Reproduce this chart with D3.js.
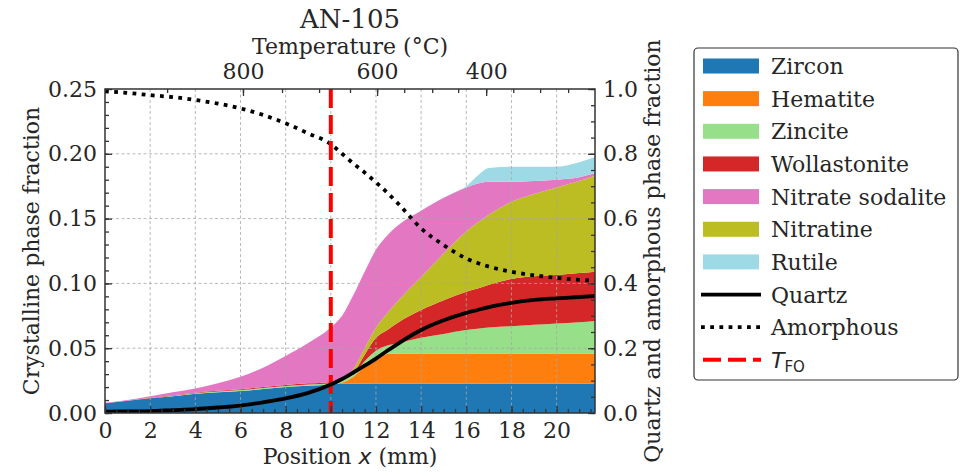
<!DOCTYPE html>
<meta charset="utf-8">
<style>
body { margin: 0; background: #fff; }
svg text { fill: #262626; }
.grid line { stroke: #a6a6a6; stroke-width: 0.8; stroke-dasharray: 3,2.5; }
</style>
<svg width="963" height="476"></svg>
<script src="https://cdn.jsdelivr.net/npm/d3@7"></script>
<script>

// position along the sample (mm)
var position = [0, 1, 2, 3, 4, 5, 6, 7, 8, 9, 10, 10.5, 11, 11.5, 12, 12.5, 13, 14, 15, 16, 16.5, 17, 18, 19, 20, 21, 21.7];

// crystalline phase fractions, stacked in this order
var zircon = [0.0075, 0.0095, 0.0113, 0.013, 0.0148, 0.016, 0.017, 0.0185, 0.020, 0.021, 0.022, 0.0225, 0.0225, 0.0225, 0.0225, 0.0225, 0.0225, 0.0225, 0.0225, 0.0225, 0.0225, 0.0225, 0.0225, 0.0225, 0.0225, 0.0225, 0.0225];
var hematite = [0, 0, 0, 0, 0, 0, 0, 0, 0, 0, 0, 0.001, 0.0055, 0.0135, 0.0205, 0.023, 0.0235, 0.0235, 0.0235, 0.0235, 0.0235, 0.0235, 0.0235, 0.0235, 0.0235, 0.0235, 0.0235];
var zincite = [0, 0, 0, 0.0003, 0.0005, 0.0006, 0.0007, 0.0008, 0.0009, 0.001, 0.001, 0.0015, 0.002, 0.004, 0.005, 0.0065, 0.008, 0.012, 0.015, 0.018, 0.019, 0.020, 0.021, 0.022, 0.023, 0.024, 0.025];
var wollastonite = [0, 0, 0.0002, 0.0003, 0.0004, 0.0005, 0.0006, 0.0007, 0.0008, 0.0009, 0.001, 0.001, 0.001, 0.005, 0.010, 0.012, 0.016, 0.0215, 0.026, 0.0296, 0.031, 0.033, 0.0364, 0.0375, 0.0375, 0.038, 0.038];
var nitratine = [0, 0, 0, 0, 0, 0, 0, 0, 0, 0, 0, 0.001, 0.003, 0.005, 0.008, 0.013, 0.017, 0.0255, 0.036, 0.0464, 0.051, 0.054, 0.0596, 0.0635, 0.0675, 0.071, 0.074];
var sodalite = [0.0005, 0.0005, 0.0015, 0.0024, 0.0033, 0.0059, 0.0097, 0.015, 0.0223, 0.0311, 0.042, 0.048, 0.057, 0.059, 0.060, 0.060, 0.058, 0.051, 0.043, 0.034, 0.030, 0.0255, 0.0155, 0.010, 0.006, 0.003, 0.002];
var rutile = [0, 0, 0, 0, 0, 0, 0, 0, 0, 0, 0, 0, 0, 0, 0, 0, 0, 0, 0, 0.001, 0.006, 0.0105, 0.0115, 0.011, 0.010, 0.0115, 0.0125];

// right axis
var quartz = [0.004, 0.005, 0.006, 0.009, 0.012, 0.017, 0.023, 0.033, 0.045, 0.062, 0.088, 0.105, 0.125, 0.146, 0.168, 0.192, 0.215, 0.256, 0.286, 0.309, 0.318, 0.327, 0.340, 0.349, 0.354, 0.358, 0.361];
var amorphous = [0.993, 0.988, 0.981, 0.975, 0.966, 0.955, 0.940, 0.920, 0.894, 0.863, 0.830, 0.800, 0.770, 0.742, 0.712, 0.680, 0.645, 0.570, 0.518, 0.477, 0.463, 0.452, 0.436, 0.425, 0.417, 0.411, 0.408];

var tFO = 10;

// temperature axis: labels and where they fall along x (mm)
var tempTicks = [850, 800, 750, 700, 650, 600, 550, 500, 450, 400, 350, 300, 250];
var tempPos = [2.75, 6.11, 7.84, 9.48, 10.85, 12.05, 13.25, 14.49, 15.64, 16.88, 18.08, 19.27, 20.51];

var layerNames = ["Zircon", "Hematite", "Zincite", "Wollastonite", "Nitratine", "Nitrate sodalite", "Rutile"];
var layerValues = [zircon, hematite, zincite, wollastonite, nitratine, sodalite, rutile];
var colors = {
  "Zircon": "#1f77b4", "Hematite": "#ff7f0e", "Zincite": "#98df8a", "Wollastonite": "#d62728",
  "Nitrate sodalite": "#e377c2", "Nitratine": "#bcbd22", "Rutile": "#9edae5"
};
var legendOrder = ["Zircon", "Hematite", "Zincite", "Wollastonite", "Nitrate sodalite", "Nitratine", "Rutile"];

var svg = d3.select("svg");
var m = {left: 105, right: 595, top: 89, bottom: 413};
var fs = 22;

var x = d3.scaleLinear().domain([0, 21.7]).range([m.left, m.right]);
var y = d3.scaleLinear().domain([0, 0.25]).range([m.bottom, m.top]);
var y2 = d3.scaleLinear().domain([0, 1]).range([m.bottom, m.top]);

svg.append("clipPath").attr("id", "clip")
  .append("rect").attr("x", m.left).attr("y", m.top)
  .attr("width", m.right - m.left).attr("height", m.bottom - m.top);

// stacked areas
var table = position.map(function(p, i) {
  var row = {pos: p};
  layerNames.forEach(function(n, k) { row[n] = layerValues[k][i]; });
  return row;
});
var series = d3.stack().keys(layerNames)(table);

var area = d3.area()
  .x(function(d) { return x(d.data.pos); })
  .y0(function(d) { return y(d[0]); })
  .y1(function(d) { return y(d[1]); })
  .curve(d3.curveMonotoneX);

var plot = svg.append("g").attr("clip-path", "url(#clip)");
plot.selectAll(".layer")
  .data(series)
  .enter().append("path")
    .attr("class", "layer")
    .attr("d", area)
    .attr("fill", function(d) { return colors[d.key]; });

// grid
var grid = plot.append("g").attr("class", "grid");
grid.selectAll(".gx").data(d3.range(2, 21, 2)).enter().append("line")
  .attr("x1", x).attr("x2", x).attr("y1", m.top).attr("y2", m.bottom);
grid.selectAll(".gy").data([0.05, 0.10, 0.15, 0.20]).enter().append("line")
  .attr("x1", m.left).attr("x2", m.right).attr("y1", y).attr("y2", y);

// lines on right axis
var line = d3.line()
  .x(function(d, i) { return x(position[i]); })
  .y(function(d) { return y2(d); })
  .curve(d3.curveMonotoneX);

plot.append("path").datum(amorphous)
  .attr("d", line).attr("fill", "none").attr("stroke", "#000")
  .attr("stroke-width", 3.8).attr("stroke-dasharray", "3.8,5.4");

plot.append("line")
  .attr("x1", x(tFO)).attr("x2", x(tFO)).attr("y1", m.top).attr("y2", m.bottom)
  .attr("stroke", "#ff0000").attr("stroke-width", 4).attr("stroke-dasharray", "19,7");

plot.append("path").datum(quartz)
  .attr("d", line).attr("fill", "none").attr("stroke", "#000")
  .attr("stroke-width", 3.8);

// axes
function styleAxis(g) {
  g.attr("font-family", "DejaVu Serif").attr("font-size", fs);
  g.select(".domain").remove();
  g.selectAll(".tick line").attr("stroke", "#333").attr("stroke-width", 1.3);
  g.selectAll(".tick text").attr("fill", "#333");
}

svg.append("g").attr("transform", "translate(0," + m.bottom + ")")
  .call(d3.axisBottom(x).tickValues(d3.range(0, 21, 2)).tickSize(-7).tickPadding(9).tickFormat(d3.format("d")))
  .call(styleAxis);
svg.append("g").attr("transform", "translate(0," + m.bottom + ")")
  .call(d3.axisBottom(x).tickValues(d3.range(0, 21.71, 0.5)).tickSize(-4).tickFormat(""))
  .call(styleAxis);

svg.append("g").attr("transform", "translate(" + m.left + ",0)")
  .call(d3.axisLeft(y).tickValues([0, 0.05, 0.10, 0.15, 0.20, 0.25]).tickSize(-7).tickPadding(8).tickFormat(d3.format(".2f")))
  .call(styleAxis);
svg.append("g").attr("transform", "translate(" + m.left + ",0)")
  .call(d3.axisLeft(y).tickValues(d3.range(0, 0.251, 0.01)).tickSize(-4).tickFormat(""))
  .call(styleAxis);

svg.append("g").attr("transform", "translate(" + m.right + ",0)")
  .call(d3.axisRight(y2).tickValues([0, 0.2, 0.4, 0.6, 0.8, 1.0]).tickSize(-7).tickPadding(8).tickFormat(d3.format(".1f")))
  .call(styleAxis);
svg.append("g").attr("transform", "translate(" + m.right + ",0)")
  .call(d3.axisRight(y2).tickValues(d3.range(0, 1.001, 0.05)).tickSize(-4).tickFormat(""))
  .call(styleAxis);

var tempMajor = tempPos.filter(function(p, i) { return tempTicks[i] % 200 === 0; });
svg.append("g").attr("transform", "translate(0," + m.top + ")")
  .call(d3.axisTop(x).tickValues(tempMajor).tickSize(-7).tickPadding(10)
    .tickFormat(function(p) { return tempTicks[tempPos.indexOf(p)]; }))
  .call(styleAxis);
svg.append("g").attr("transform", "translate(0," + m.top + ")")
  .call(d3.axisTop(x).tickValues(tempPos).tickSize(-4).tickFormat(""))
  .call(styleAxis);

// frame
svg.append("rect")
  .attr("x", m.left).attr("y", m.top)
  .attr("width", m.right - m.left).attr("height", m.bottom - m.top)
  .attr("fill", "none").attr("stroke", "#333").attr("stroke-width", 1.5);

// labels
var serif = "DejaVu Serif";
svg.append("text").attr("x", (m.left + m.right) / 2).attr("y", 28)
  .attr("text-anchor", "middle").attr("font-family", serif).attr("font-size", 26)
  .text("AN-105");
svg.append("text").attr("x", (m.left + m.right) / 2).attr("y", 54)
  .attr("text-anchor", "middle").attr("font-family", serif).attr("font-size", fs)
  .text("Temperature (°C)");

var xl = svg.append("text").attr("x", (m.left + m.right) / 2).attr("y", 464)
  .attr("text-anchor", "middle").attr("font-family", serif).attr("font-size", fs);
xl.append("tspan").text("Position ");
xl.append("tspan").attr("font-family", "DejaVu Sans").attr("font-style", "italic").text("x");
xl.append("tspan").text(" (mm)");

svg.append("text")
  .attr("transform", "translate(39," + (m.top + m.bottom) / 2 + ") rotate(-90)")
  .attr("text-anchor", "middle").attr("font-family", serif).attr("font-size", fs)
  .text("Crystalline phase fraction");
svg.append("text")
  .attr("transform", "translate(660," + (m.top + m.bottom) / 2 + ") rotate(-90)")
  .attr("text-anchor", "middle").attr("font-family", serif).attr("font-size", fs)
  .text("Quartz and amorphous phase fraction");

// legend
var lg = svg.append("g");
lg.append("rect").attr("x", 694).attr("y", 48).attr("width", 264).attr("height", 332)
  .attr("rx", 4).attr("fill", "#fff").attr("stroke", "#333").attr("stroke-width", 1.2);

var rowY = function(i) { return 66 + i * 32.65; };
legendOrder.forEach(function(n, i) {
  lg.append("rect").attr("x", 703).attr("y", rowY(i) - 7.5).attr("width", 56).attr("height", 15)
    .attr("fill", colors[n]);
  lg.append("text").attr("x", 771).attr("y", rowY(i) + 8)
    .attr("font-family", serif).attr("font-size", fs).text(n);
});
var k = legendOrder.length;
lg.append("line").attr("x1", 701).attr("x2", 761).attr("y1", rowY(k)).attr("y2", rowY(k))
  .attr("stroke", "#000").attr("stroke-width", 3.8);
lg.append("text").attr("x", 771).attr("y", rowY(k) + 8)
  .attr("font-family", serif).attr("font-size", fs).text("Quartz");
lg.append("line").attr("x1", 701).attr("x2", 761).attr("y1", rowY(k + 1)).attr("y2", rowY(k + 1))
  .attr("stroke", "#000").attr("stroke-width", 3.8).attr("stroke-dasharray", "3.8,5.4");
lg.append("text").attr("x", 771).attr("y", rowY(k + 1) + 8)
  .attr("font-family", serif).attr("font-size", fs).text("Amorphous");
lg.append("line").attr("x1", 703).attr("x2", 761).attr("y1", rowY(k + 2)).attr("y2", rowY(k + 2))
  .attr("stroke", "#ff0000").attr("stroke-width", 4).attr("stroke-dasharray", "18,7");
var tl = lg.append("text").attr("x", 771).attr("y", rowY(k + 2) + 8)
  .attr("font-family", "DejaVu Sans").attr("font-size", fs);
tl.append("tspan").attr("font-style", "italic").text("T");
tl.append("tspan").attr("font-size", 15).attr("dy", 4).text("FO");

</script>
